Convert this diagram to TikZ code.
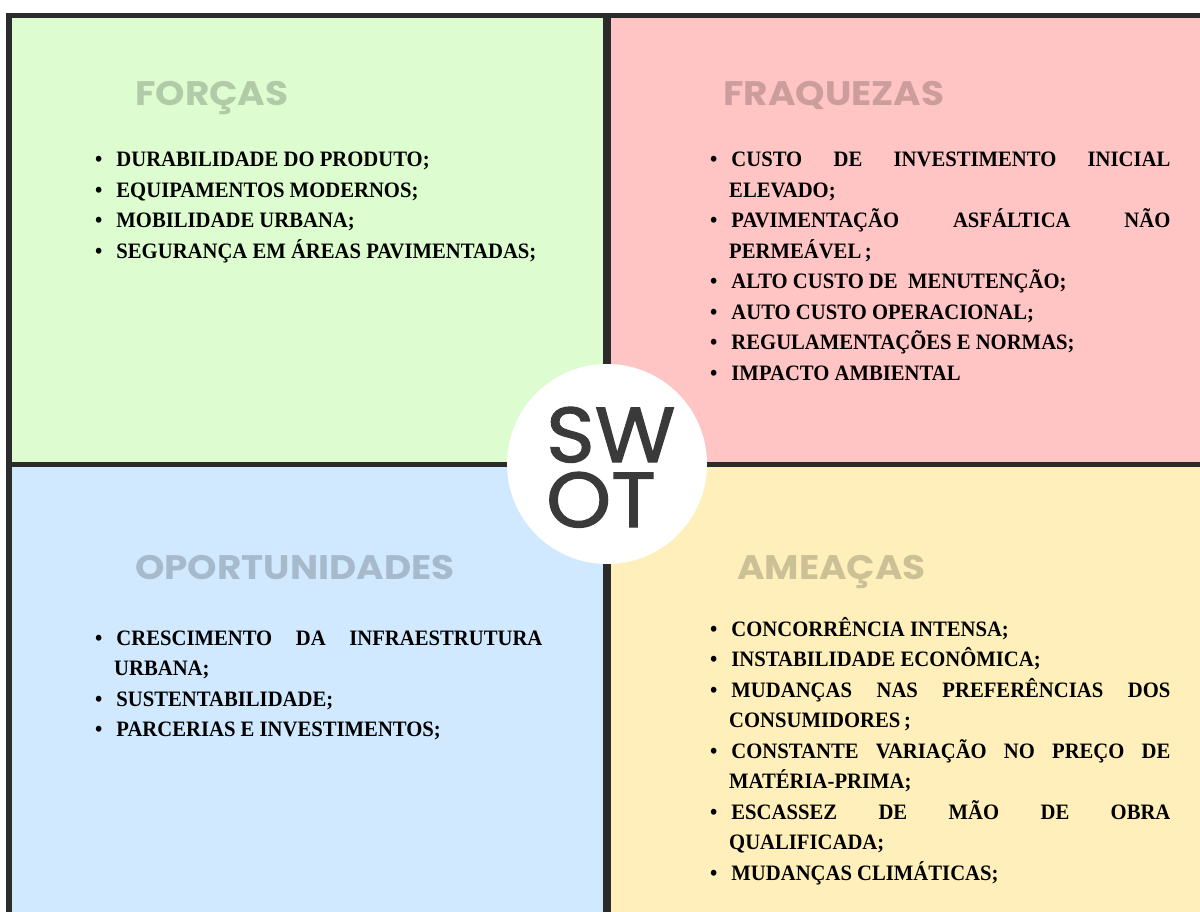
\documentclass[tikz,border=0pt]{standalone}
\usepackage{fontspec}
\newfontfamily\bodyfont{Liberation Serif}[FakeStretch=0.94]
\newfontfamily\headfont{Poppins}[FakeStretch=1.1]
\newfontfamily\swotfont{Poppins}[FakeStretch=1.06,FakeBold=1.6]
\definecolor{qgreen}{HTML}{DDFDD0}
\definecolor{qpink}{HTML}{FFC4C4}
\definecolor{qblue}{HTML}{D1E9FF}
\definecolor{qyellow}{HTML}{FFF0BB}
\definecolor{framecol}{HTML}{2B2B2B}
\definecolor{swotgray}{HTML}{3A3A3A}
\newenvironment{swotlist}[1]{\begin{minipage}[t]{#1}\bodyfont\bfseries\fontsize{22}{30.5}\selectfont
\begin{list}{\textbullet}{\setlength\leftmargin{19pt}\setlength\labelsep{14pt}\setlength\labelwidth{5pt}\setlength\itemsep{0pt}\setlength\parsep{0pt}\setlength\topsep{0pt}\setlength\partopsep{0pt}}}{\end{list}\end{minipage}}
\newcommand\fullline[1]{\leavevmode\hbox to\linewidth{#1}}
\tikzset{
  heading/.style={anchor=base west, inner sep=0pt, font=\headfont\bfseries\fontsize{34}{34}\selectfont},
  listnode/.style={anchor=base west, inner sep=0pt, text=black},
  frameline/.style={draw=framecol, line width=#1},
  swottext/.style={anchor=base west, inner sep=0pt, text=swotgray, font=\swotfont\fontsize{78}{65}\selectfont}
}
\begin{document}
\begin{tikzpicture}[x=1pt,y=-1pt]
\useasboundingbox (0,0) rectangle (1200,912);
\fill[white] (0,0) rectangle (1200,912);
% quadrants
\fill[qgreen] (9,15.5) rectangle (607,464.5);
\fill[qpink] (607,15.5) rectangle (1200,464.5);
\fill[qblue] (9,464.5) rectangle (607,912);
\fill[qyellow] (607,464.5) rectangle (1200,912);
% frame
\draw[frameline=5.5] (1200,15.5) -- (9,15.5) -- (9,912);
\draw[frameline=7.5] (607,15.5) -- (607,912);
\draw[frameline=5] (9,464.5) -- (1200,464.5);
% centre circle
\node[circle, fill=white, minimum size=200pt, inner sep=0pt] (swot) at (607,464) {};
\node[swottext] (swotlabel) at (546,462) {\begin{minipage}[t]{150pt}SW\\OT\end{minipage}};
% headings
\node[heading, text=qgreen!80!black] (hforcas) at (135,106) {FORÇAS};
\node[heading, text=qpink!80!black] (hfraq) at (723,106) {FRAQUEZAS};
\node[heading, text=qblue!80!black] (hoport) at (135,579) {OPORTUNIDADES};
\node[heading, text=qyellow!80!black] (hameac) at (737,579) {AMEAÇAS};
% lists
\node[listnode] (lforcas) at (95,167) {\begin{swotlist}{445pt}
\item DURABILIDADE DO PRODUTO;
\item EQUIPAMENTOS MODERNOS;
\item MOBILIDADE URBANA;
\item SEGURANÇA EM ÁREAS PAVIMENTADAS;
\end{swotlist}};
\node[listnode] (lfraq) at (710,167) {\begin{swotlist}{458pt}
\item \fullline{CUSTO\hfill DE\hfill INVESTIMENTO\hfill INICIAL}\\ELEVADO;
\item \fullline{PAVIMENTAÇÃO\hfill ASFÁLTICA\hfill NÃO}\\PERMEÁVEL\,;
\item ALTO CUSTO DE\ \ MENUTENÇÃO;
\item AUTO CUSTO OPERACIONAL;
\item REGULAMENTAÇÕES E NORMAS;
\item IMPACTO AMBIENTAL
\end{swotlist}};
\node[listnode] (loport) at (95,645) {\begin{swotlist}{445pt}
\item \fullline{CRESCIMENTO\hfill DA\hfill INFRAESTRUTURA}\\URBANA;
\item SUSTENTABILIDADE;
\item PARCERIAS E INVESTIMENTOS;
\end{swotlist}};
\node[listnode] (lameac) at (710,636) {\begin{swotlist}{458pt}
\item CONCORRÊNCIA INTENSA;
\item INSTABILIDADE ECONÔMICA;
\item \fullline{MUDANÇAS\hfill NAS\hfill PREFERÊNCIAS\hfill DOS}\\CONSUMIDORES\,;
\item \fullline{CONSTANTE\hfill VARIAÇÃO\hfill NO\hfill PREÇO\hfill DE}\\MATÉRIA-PRIMA;
\item \fullline{ESCASSEZ\hfill DE\hfill MÃO\hfill DE\hfill OBRA}\\QUALIFICADA;
\item MUDANÇAS CLIMÁTICAS;
\end{swotlist}};
\end{tikzpicture}
\end{document}
